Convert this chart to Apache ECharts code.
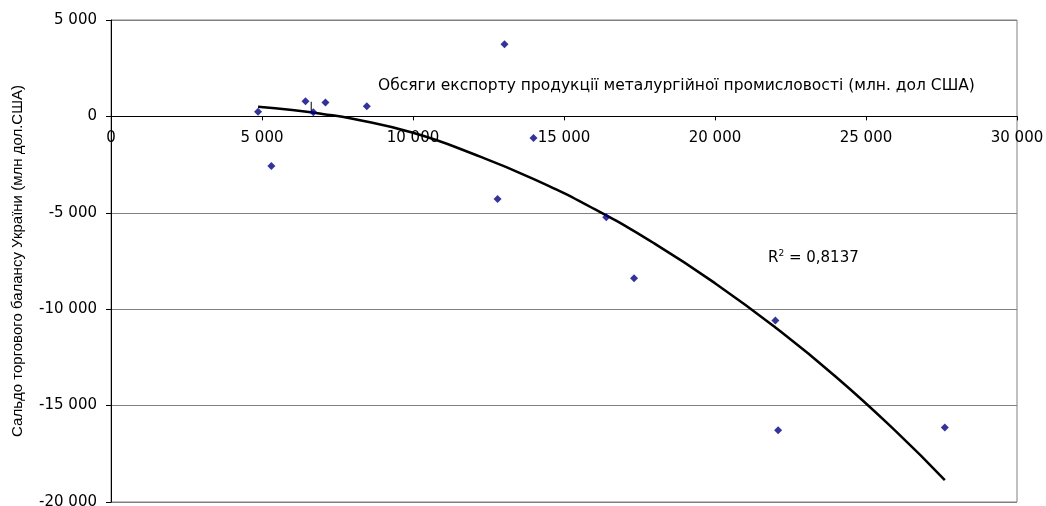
<!DOCTYPE html>
<html>
<head>
<meta charset="utf-8">
<script src="https://cdn.jsdelivr.net/npm/echarts@6/dist/echarts.min.js"></script>
<style>html,body{margin:0;padding:0;background:#fff}#c{width:1046px;height:506px}</style>
</head>
<body>
<div id="c"></div>
<script>
// Observed points: metallurgy export (x) vs trade balance (y)
const exportX = [4870, 5310, 6440, 6700, 7100, 8470, 12800, 13030, 13990, 16400, 17320, 22000, 22090, 27610];
const balanceY = [240, -2570, 790, 220, 720, 530, -4290, 3740, -1120, -5230, -8390, -10590, -16280, -16130];
// Polynomial trend line
const trendX = [4870, 6000, 7000, 8000, 10000, 12000, 14000, 16000, 18000, 20000, 22000, 24000, 26000, 27610];
const trendY = [500, 330, 130, -120, -850, -1950, -3250, -4800, -6600, -8650, -10950, -13500, -16350, -18860];
// small vertical leader segment near the cluster
const leaderX = [6630, 6630];
const leaderY = [230, 760];
const xTicks = [0, 5000, 10000, 15000, 20000, 25000, 30000];
const yTicks = [-20000, -15000, -10000, -5000, 0, 5000];

const titleText = 'Обсяги експорту продукції металургійної промисловості (млн. дол США)';
const yName = 'Сальдо торгового балансу України (млн дол.США)';
const r2Label = '0,8137';

function fmt(v) {
  return String(v).replace(/\B(?=(\d{3})+(?!\d))/g, ' ');
}
const zip = (a, b) => a.map((v, i) => [v, b[i]]);

const W = 1046, H = 506;
const G = {left: 111, right: 29, top: 20, bottom: 4};
const plotH = H - G.top - G.bottom;
const yMin = yTicks[0], yMax = yTicks[yTicks.length - 1];
// shift the x axis up so it sits on y = 0
const xAxisOffset = -plotH * (0 - yMin) / (yMax - yMin);

const chart = echarts.init(document.getElementById('c'), null, {renderer: 'canvas'});
chart.setOption({
  animation: false,
  backgroundColor: '#fff',
  textStyle: {fontFamily: 'DejaVu Sans'},
  grid: {left: G.left, right: G.right, top: G.top, bottom: G.bottom, containLabel: false, outerBoundsMode: 'none',
         show: true, borderColor: '#808080', borderWidth: 1},
  title: {
    text: titleText, left: 373, top: 73,
    textStyle: {fontFamily: 'DejaVu Sans', fontSize: 15.5, fontWeight: 'normal', color: '#000'}
  },
  graphic: [{
    type: 'text', left: 768, top: 249,
    style: {
      text: '{a|R}{s|2}{a| = ' + r2Label + '}',
      rich: {
        a: {fontFamily: 'DejaVu Sans', fontSize: 15, fill: '#000', verticalAlign: 'bottom'},
        s: {fontFamily: 'DejaVu Sans', fontSize: 9, fill: '#000', verticalAlign: 'top', padding: [0, 0, 8, 0]}
      }
    }
  }],
  xAxis: {
    type: 'value', min: xTicks[0], max: xTicks[xTicks.length - 1], interval: 5000,
    position: 'bottom', offset: xAxisOffset,
    axisLine: {show: true, onZero: false, lineStyle: {color: '#000', width: 1}},
    axisTick: {show: true, length: 4, lineStyle: {color: '#000'}},
    axisLabel: {color: '#000', fontSize: 15, fontFamily: 'DejaVu Sans', margin: 14, formatter: fmt},
    splitLine: {show: false}
  },
  yAxis: {
    type: 'value', min: yMin, max: yMax, interval: 5000,
    name: yName, nameLocation: 'middle', nameGap: 86, nameRotate: 90,
    nameTextStyle: {fontFamily: 'Liberation Sans', fontSize: 15, color: '#000'},
    axisLine: {show: true, onZero: false, lineStyle: {color: '#000', width: 1}},
    axisTick: {show: true, length: 5, lineStyle: {color: '#000'}},
    axisLabel: {color: '#000', fontSize: 15, fontFamily: 'DejaVu Sans', margin: 14, formatter: fmt},
    splitLine: {show: true, lineStyle: {color: '#808080', width: 1}}
  },
  series: [
    {
      type: 'line', data: zip(trendX, trendY), smooth: true, showSymbol: false, symbol: 'none',
      lineStyle: {color: '#000', width: 2.5}, z: 3
    },
    {
      type: 'line', data: zip(leaderX, leaderY), showSymbol: false, symbol: 'none',
      lineStyle: {color: '#000', width: 1}, z: 3
    },
    {
      type: 'scatter', data: zip(exportX, balanceY), symbol: 'diamond', symbolSize: 8,
      itemStyle: {color: '#000080'}, z: 4
    }
  ]
});
</script>
</body>
</html>
